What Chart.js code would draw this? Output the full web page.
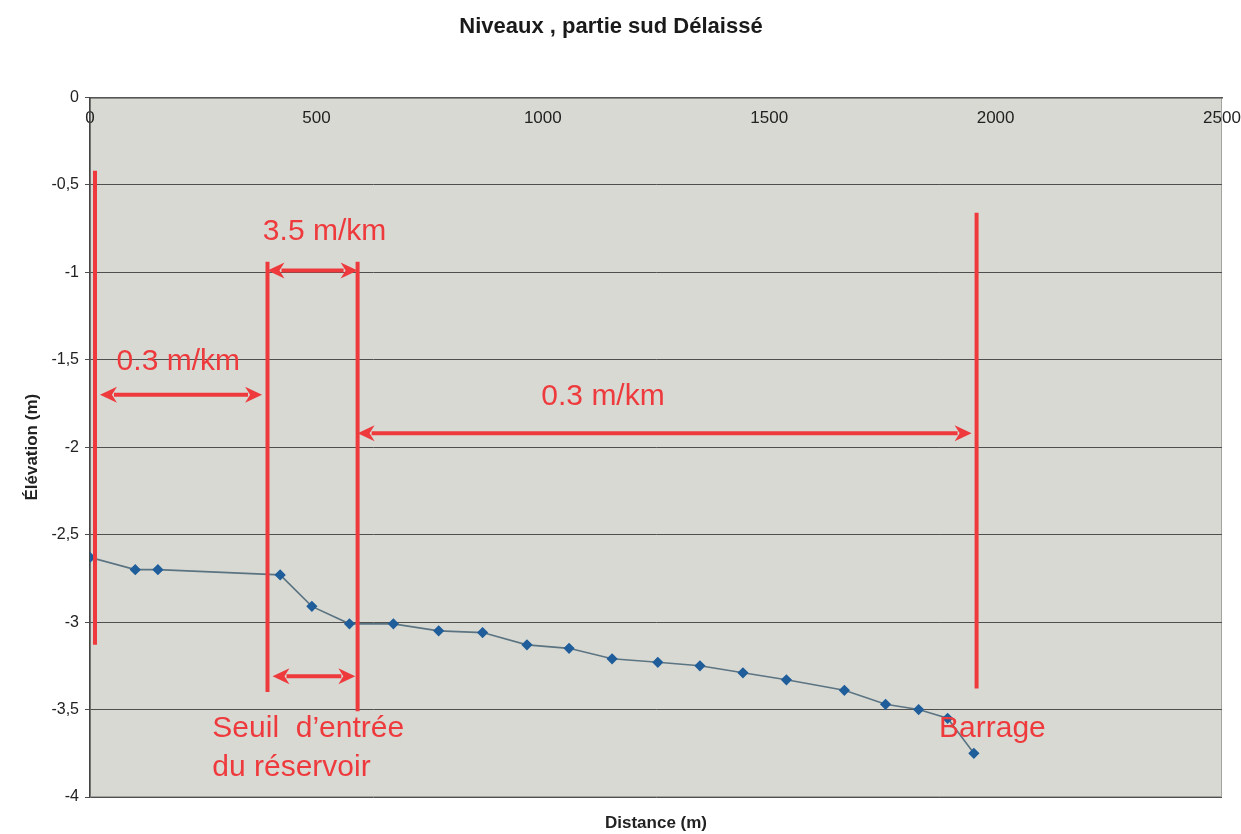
<!DOCTYPE html>
<html lang="fr">
<head>
<meta charset="utf-8">
<title>Niveaux, partie sud Délaissé</title>
<script src="https://cdn.jsdelivr.net/npm/chart.js@4.4.1/dist/chart.umd.min.js"></script>
<style>
  html, body { margin: 0; padding: 0; background: #fff; }
  #wrap { width: 1241px; height: 834px; }
</style>
</head>
<body>
<div id="wrap"><canvas id="niveaux"></canvas></div>
<script>
"use strict";

// Distance des points de mesure (m)
const distances = [0, 100, 150, 420, 490, 573, 670, 770, 867, 965, 1058, 1153, 1254, 1347, 1442, 1538, 1666, 1757, 1830, 1894, 1952];
// Élévation mesurée (m)
const elevations = [-2.63, -2.70, -2.70, -2.73, -2.91, -3.01, -3.01, -3.05, -3.06, -3.13, -3.15, -3.21, -3.23, -3.25, -3.29, -3.33, -3.39, -3.47, -3.50, -3.55, -3.75];

// Graduations
const xTicks = [0, 500, 1000, 1500, 2000, 2500];
const xTickLabels = ["0", "500", "1000", "1500", "2000", "2500"];
const yTicks = [0, -0.5, -1, -1.5, -2, -2.5, -3, -3.5, -4];
const yTickLabels = ["0", "-0,5", "-1", "-1,5", "-2", "-2,5", "-3", "-3,5", "-4"];

// Repères rouges verticaux : distance, haut, bas
const repereX = [11, 392, 591, 1958];
const repereHaut = [-0.42, -0.94, -0.94, -0.66];
const repereBas = [-3.13, -3.40, -3.51, -3.38];

// Flèches doubles : début, fin, élévation
const flecheDebut = [392, 22, 591, 403];
const flecheFin = [591, 380, 1947, 586];
const flecheY = [-0.99, -1.70, -1.92, -3.31];

// Notes en rouge (centrées sur distance / élévation)
const notes = ["3.5 m/km", "0.3 m/km", "0.3 m/km", "Seuil  d\u2019entrée", "du réservoir", "Barrage"];
const noteX = [518, 195, 1133, 482, 445, 1993];
const noteY = [-0.77, -1.51, -1.71, -3.61, -3.83, -3.61];

const ROUGE = "#ee3a3c";
const POLICE = "'Liberation Sans', Arial, sans-serif";

// Fond gris de la zone de tracé
const fondGris = {
    id: "fondGris",
    beforeDraw(chart) {
        const { ctx, chartArea: a } = chart;
        ctx.save();
        ctx.fillStyle = "#d9d9d4";
        ctx.fillRect(a.left, a.top, a.right - a.left, a.bottom - a.top);
        ctx.strokeStyle = "#a3a39f";
        ctx.lineWidth = 1;
        ctx.strokeRect(a.left + 0.5, a.top + 0.5, a.right - a.left - 1, a.bottom - a.top - 1);
        ctx.restore();
    }
};

// Flèche double horizontale
function flecheDouble(ctx, x1, x2, y) {
    const tete = 17, demi = 8;
    ctx.beginPath();
    ctx.moveTo(x1 + tete - 3, y);
    ctx.lineTo(x2 - tete + 3, y);
    ctx.stroke();
    ctx.beginPath();
    ctx.moveTo(x1, y);
    ctx.lineTo(x1 + tete, y - demi);
    ctx.lineTo(x1 + tete - 5, y);
    ctx.lineTo(x1 + tete, y + demi);
    ctx.closePath();
    ctx.fill();
    ctx.beginPath();
    ctx.moveTo(x2, y);
    ctx.lineTo(x2 - tete, y - demi);
    ctx.lineTo(x2 - tete + 5, y);
    ctx.lineTo(x2 - tete, y + demi);
    ctx.closePath();
    ctx.fill();
}

// Flèches et notes, placées avec les échelles du graphique
const annotations = {
    id: "annotations",
    afterDatasetsDraw(chart) {
        const { ctx } = chart;
        const sx = chart.scales.x, sy = chart.scales.y;
        ctx.save();
        ctx.strokeStyle = ROUGE;
        ctx.fillStyle = ROUGE;
        ctx.lineWidth = 4;
        for (let i = 0; i < flecheY.length; i++) {
            flecheDouble(ctx, sx.getPixelForValue(flecheDebut[i]), sx.getPixelForValue(flecheFin[i]), sy.getPixelForValue(flecheY[i]));
        }
        ctx.font = "30px " + POLICE;
        ctx.textAlign = "center";
        ctx.textBaseline = "middle";
        for (let i = 0; i < notes.length; i++) {
            ctx.fillText(notes[i], sx.getPixelForValue(noteX[i]), sy.getPixelForValue(noteY[i]));
        }
        ctx.restore();
    }
};

// Repères verticaux en jeux de données
const reperes = repereX.map((x, i) => ({
    data: [{ x: x, y: repereHaut[i] }, { x: x, y: repereBas[i] }],
    borderColor: ROUGE,
    borderWidth: 4,
    pointRadius: 0,
    showLine: true,
    order: 0
}));

const ctx = document.getElementById("niveaux");

new Chart(ctx, {
    type: "scatter",
    data: {
        datasets: [{
            label: "Élévation",
            data: distances.map((d, i) => ({ x: d, y: elevations[i] })),
            showLine: true,
            borderColor: "#5b7482",
            borderWidth: 1.6,
            pointStyle: "rectRot",
            pointRadius: 4.5,
            pointBackgroundColor: "#1f5e9a",
            pointBorderColor: "#1f5e9a",
            order: 1
        }, ...reperes]
    },
    options: {
        responsive: true,
        maintainAspectRatio: false,
        animation: false,
        layout: { padding: { left: 0, right: 19, top: 0, bottom: 0 } },
        plugins: {
            legend: { display: false },
            tooltip: { enabled: false },
            title: {
                display: true,
                text: "Niveaux , partie sud Délaissé",
                color: "#1a1a1a",
                font: { family: POLICE, size: 22, weight: "bold" },
                padding: { top: 14, bottom: 0 }
            }
        },
        scales: {
            x: {
                type: "linear",
                position: "top",
                min: 0,
                max: 2500,
                afterBuildTicks: s => { s.ticks = xTicks.map(v => ({ value: v })); },
                afterFit: s => {
                    s.height = 57;
                    // pas de marge ajoutée pour la dernière étiquette
                    s.paddingLeft = 0;
                    s.paddingRight = 0;
                },
                grid: { display: false },
                border: { display: true, color: "#555", width: 1.5 },
                ticks: {
                    // étiquettes à l'intérieur, sous l'axe
                    mirror: true,
                    padding: 11,
                    maxRotation: 0,
                    color: "#222",
                    font: { family: POLICE, size: 17 },
                    callback: (v, i) => xTickLabels[i]
                }
            },
            x2: {
                type: "linear",
                position: "bottom",
                min: 0,
                max: 2500,
                afterFit: s => { s.height = 37; },
                grid: { display: false },
                border: { display: false },
                ticks: { display: false },
                title: {
                    display: true,
                    text: "Distance (m)",
                    color: "#222",
                    font: { family: POLICE, size: 17, weight: "bold" },
                    padding: { top: 0, bottom: 0 }
                }
            },
            y: {
                type: "linear",
                min: -4,
                max: 0,
                afterBuildTicks: s => { s.ticks = yTicks.map(v => ({ value: v })); },
                afterFit: s => { s.width = 90; },
                grid: { color: "#4f4f4f", lineWidth: 1, drawTicks: true, tickLength: 5 },
                border: { color: "#444", width: 1.5 },
                ticks: {
                    padding: 6,
                    color: "#222",
                    font: { family: POLICE, size: 16 },
                    callback: (v, i) => yTickLabels[i]
                },
                title: {
                    display: true,
                    text: "Élévation (m)",
                    color: "#222",
                    font: { family: POLICE, size: 17, weight: "bold" },
                    padding: { top: 22, bottom: 0 }
                }
            }
        }
    },
    plugins: [fondGris, annotations]
});
</script>
</body>
</html>
